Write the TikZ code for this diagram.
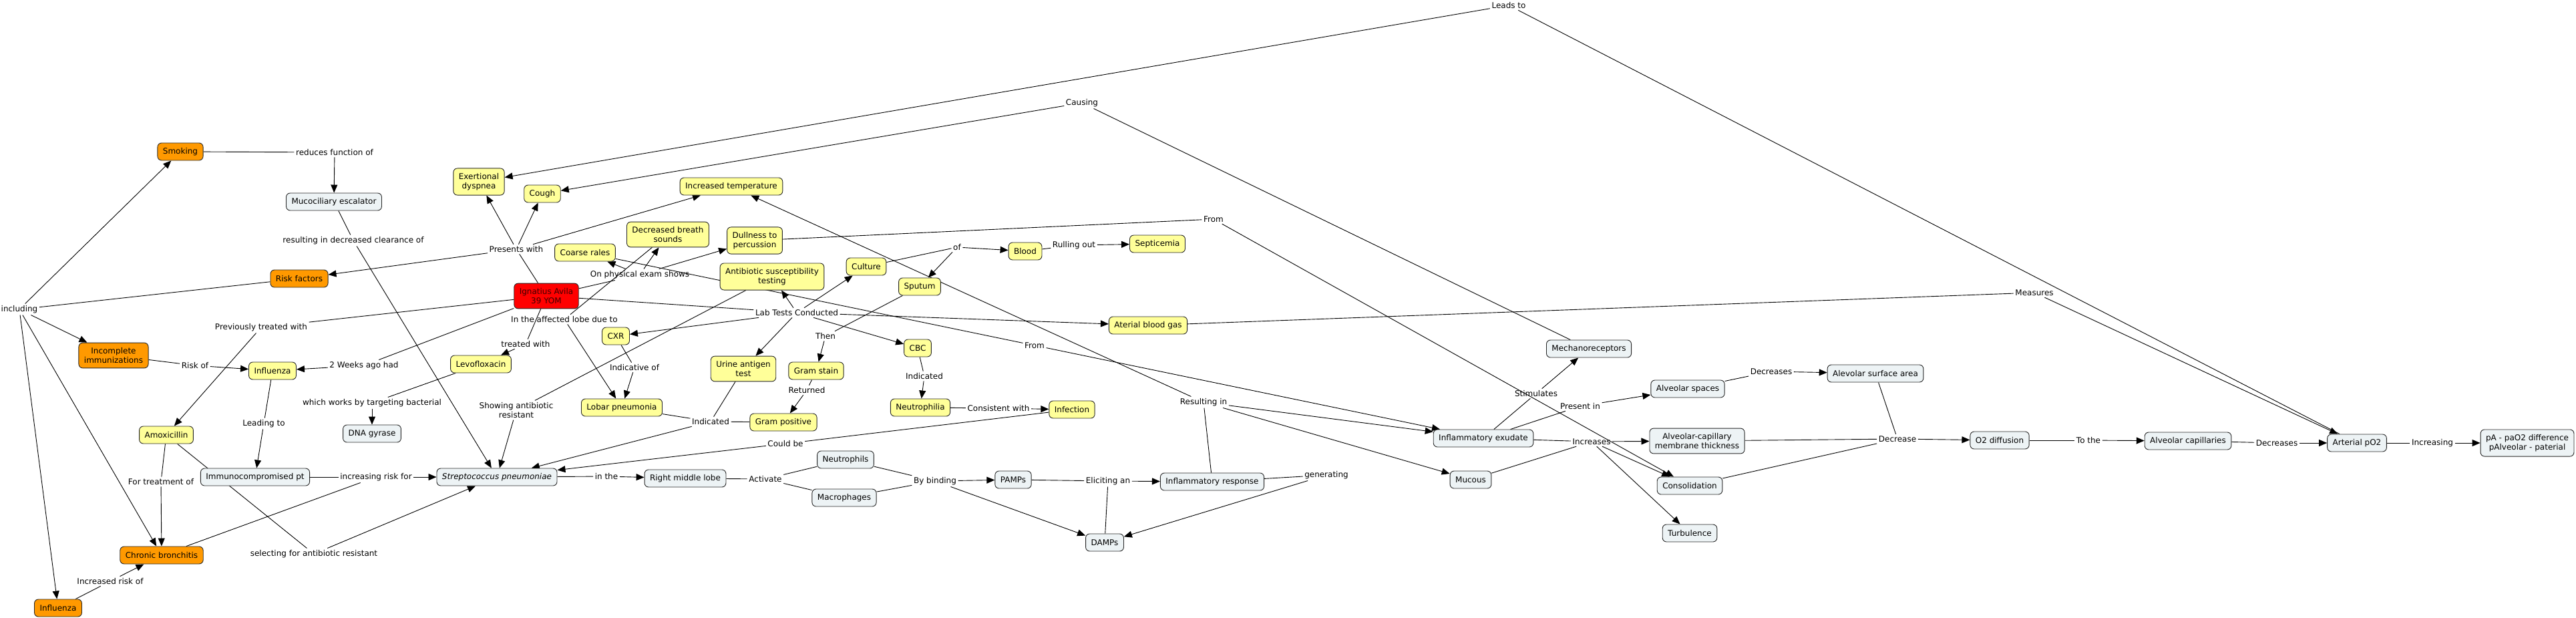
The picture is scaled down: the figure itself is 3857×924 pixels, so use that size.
\documentclass[tikz,border=0pt]{standalone}
\usepackage{fontspec}
\setmainfont{DejaVu Sans}
\usetikzlibrary{arrows.meta,backgrounds}
\definecolor{riskorange}{RGB}{255,153,0}
\definecolor{findyellow}{RGB}{255,255,153}
\definecolor{procgray}{RGB}{237,243,245}
\definecolor{ptred}{RGB}{255,0,0}
\definecolor{pttext}{RGB}{60,0,0}
\begin{document}
\begin{tikzpicture}[x=1pt,y=-1pt,font=\fontsize{12}{14.5}\selectfont,
concept/.style={draw=black!85,rounded corners=6pt,align=center,inner xsep=8pt,inner ysep=7pt,minimum height=26pt,line width=0.9pt},
riskbox/.style={concept,fill=riskorange},
patient/.style={concept,fill=ptred,text=pttext},
finding/.style={concept,fill=findyellow},
process/.style={concept,fill=procgray},
link/.style={inner sep=2.5pt,align=center},
cline/.style={line width=0.9pt},
arr/.style={-{Triangle[length=12pt,width=10pt]},line width=0.9pt}]
\useasboundingbox(0,0)rectangle(3857,924);
\node[riskbox](smoking)at(270,227){Smoking};
\node[riskbox](riskfac)at(448,417){Risk factors};
\node[riskbox](incompl)at(170,532){Incomplete\\immunizations};
\node[riskbox](chronic)at(242,831){Chronic bronchitis};
\node[riskbox](fluorange)at(87,910){Influenza};
\node[patient](patient)at(818,443){Ignatius Avila\\39 YOM};
\node[finding](dyspnea)at(717,272){Exertional\\dyspnea};
\node[finding](cough)at(812,290){Cough};
\node[finding](temp)at(1095,279){Increased temperature};
\node[finding](breath)at(1000,351){Decreased breath\\sounds};
\node[finding](dullness)at(1130,360){Dullness to\\percussion};
\node[finding](rales)at(876,378){Coarse rales};
\node[finding](suscept)at(1156,414){Antibiotic susceptibility\\testing};
\node[finding](culture)at(1297,399){Culture};
\node[finding](sputum)at(1377,429){Sputum};
\node[finding](blood)at(1535,376){Blood};
\node[finding](septic)at(1733,365){Septicemia};
\node[finding](abg)at(1719,487){Aterial blood gas};
\node[finding](cbc)at(1374,521){CBC};
\node[finding](neutrophilia)at(1378,610){Neutrophilia};
\node[finding](infection)at(1605,613){Infection};
\node[finding](cxr)at(922,503){CXR};
\node[finding](levo)at(720,545){Levofloxacin};
\node[finding](lobar)at(931,610){Lobar pneumonia};
\node[finding](urine)at(1113,552){Urine antigen\\test};
\node[finding](gramstain)at(1222,555){Gram stain};
\node[finding](grampos)at(1173,632){Gram positive};
\node[finding](fluyellow)at(408,555){Influenza};
\node[finding](amox)at(249,651){Amoxicillin};
\node[process](mucoc)at(500,302){Mucociliary escalator};
\node[process](dna)at(557,649){DNA gyrase};
\node[process](immuno)at(382,714){Immunocompromised pt};
\node[process](strep)at(744,714){\textit{Streptococcus pneumoniae}};
\node[process](rml)at(1026,716){Right middle lobe};
\node[process](neuts)at(1266,688){Neutrophils};
\node[process](macro)at(1264,745){Macrophages};
\node[process](pamps)at(1517,718){PAMPs};
\node[process](damps)at(1654,812){DAMPs};
\node[process](inflresp)at(1815,721){Inflammatory response};
\node[process](exudate)at(2221,656){Inflammatory exudate};
\node[process](mucous)at(2202,718){Mucous};
\node[process](mechano)at(2379,522){Mechanoreceptors};
\node[process](alvspace)at(2527,582){Alveolar spaces};
\node[process](acthick)at(2541,660){Alveolar-capillary\\membrane thickness};
\node[process](consol)at(2530,727){Consolidation};
\node[process](turb)at(2530,798){Turbulence};
\node[process](surfarea)at(2808,559){Alevolar surface area};
\node[process](odiff)at(2994,659){O2 diffusion};
\node[process](alvcap)at(3276,660){Alveolar capillaries};
\node[process](apo)at(3529,663){Arterial pO2};
\node[process](aadiff)at(3784,663){pA - paO2 difference\\pAlveolar - paterial};
\node[link](lredfn)at(501,228){reduces function of};
\node[link](lclear)at(529,360){resulting in decreased clearance of};
\node[link](lincl)at(29,463){including};
\node[link](lpresent)at(773,373){Presents with};
\node[link](lexam)at(958,411){On physical exam shows};
\node[link](llabs)at(1193,468){Lab Tests Conducted};
\node[link](llobe)at(845,478){In the affected lobe due to};
\node[link](ltreated)at(787,515){treated with};
\node[link](lprev)at(391,490){Previously treated with};
\node[link](ltwowk)at(545,547){2 Weeks ago had};
\node[link](lriskof)at(292,547){Risk of};
\node[link](ltarget)at(557,603){which works by targeting bacterial};
\node[link](llead)at(395,634){Leading to};
\node[link](lfortreat)at(241,721){For treatment of};
\node[link](lincrisk)at(563,714){increasing risk for};
\node[link](lselect)at(470,829){selecting for antibiotic resistant};
\node[link](lincrof)at(165,870){Increased risk of};
\node[link](lindic)at(950,550){Indicative of};
\node[link](lshowing)at(773,614){Showing antibiotic\\resistant};
\node[link](lthen)at(1236,503){Then};
\node[link](lret)at(1208,584){Returned};
\node[link](lindtwo)at(1064,631){Indicated};
\node[link](lcould)at(1176,664){Could be};
\node[link](linthe)at(908,713){in the};
\node[link](lact)at(1146,717){Activate};
\node[link](lof)at(1433,370){of};
\node[link](lrule)at(1608,367){Rulling out};
\node[link](lcausing)at(1620,154){Causing};
\node[link](lleads)at(2259,8){Leads to};
\node[link](lfromtop)at(1817,328){From};
\node[link](lfrommid)at(1549,517){From};
\node[link](lindthree)at(1384,563){Indicated};
\node[link](lconsis)at(1495,611){Consistent with};
\node[link](lresult)at(1802,602){Resulting in};
\node[link](lbind)at(1400,720){By binding};
\node[link](lelicit)at(1659,720){Eliciting an};
\node[link](lgen)at(1986,711){generating};
\node[link](lstim)at(2300,589){Stimulates};
\node[link](lpresin)at(2366,608){Present in};
\node[link](lincr)at(2383,661){Increases};
\node[link](ldecsone)at(2652,556){Decreases};
\node[link](ldec)at(2841,657){Decrease};
\node[link](ltothe)at(3127,659){To the};
\node[link](ldecstwo)at(3409,663){Decreases};
\node[link](lincing)at(3642,663){Increasing};
\node[link](lmeas)at(3046,438){Measures};
\begin{scope}[on background layer]
\draw[cline](smoking)--(lredfn);
\draw[arr](lredfn)--(mucoc);
\draw[cline](mucoc)--(lclear);
\draw[arr](lclear)--(strep);
\draw[cline](riskfac)--(lincl);
\draw[arr](lincl)--(smoking);
\draw[arr](lincl)--(incompl);
\draw[arr](lincl)--(chronic);
\draw[arr](lincl)--(fluorange);
\draw[cline](patient)--(lpresent);
\draw[arr](lpresent)--(dyspnea);
\draw[arr](lpresent)--(cough);
\draw[arr](lpresent)--(temp);
\draw[arr](lpresent)--(riskfac);
\draw[cline](patient)--(lexam);
\draw[arr](lexam)--(rales);
\draw[arr](lexam)--(breath);
\draw[arr](lexam)--(dullness);
\draw[cline](patient)--(llabs);
\draw[arr](llabs)--(suscept);
\draw[arr](llabs)--(culture);
\draw[arr](llabs)--(cxr);
\draw[arr](llabs)--(urine);
\draw[arr](llabs)--(cbc);
\draw[arr](llabs)--(abg);
\draw[cline](breath)--(llobe);
\draw[arr](llobe)--(lobar);
\draw[cline](patient)--(ltreated);
\draw[arr](ltreated)--(levo);
\draw[cline](patient)--(lprev);
\draw[arr](lprev)--(amox);
\draw[cline](patient)--(ltwowk);
\draw[arr](ltwowk)--(fluyellow);
\draw[cline](incompl)--(lriskof);
\draw[arr](lriskof)--(fluyellow);
\draw[cline](levo)--(ltarget);
\draw[arr](ltarget)--(dna);
\draw[cline](fluyellow)--(llead);
\draw[arr](llead)--(immuno);
\draw[cline](amox)--(lfortreat);
\draw[arr](lfortreat)--(chronic);
\draw[cline](immuno)--(lincrisk);
\draw[cline](chronic)--(lincrisk);
\draw[arr](lincrisk)--(strep);
\draw[cline](amox)--(lselect);
\draw[arr](lselect)--(strep);
\draw[cline](fluorange)--(lincrof);
\draw[arr](lincrof)--(chronic);
\draw[cline](cxr)--(lindic);
\draw[arr](lindic)--(lobar);
\draw[cline](suscept)--(lshowing);
\draw[arr](lshowing)--(strep);
\draw[cline](sputum)--(lthen);
\draw[arr](lthen)--(gramstain);
\draw[cline](gramstain)--(lret);
\draw[arr](lret)--(grampos);
\draw[cline](lobar)--(lindtwo);
\draw[cline](grampos)--(lindtwo);
\draw[cline](urine)--(lindtwo);
\draw[arr](lindtwo)--(strep);
\draw[cline](infection)--(lcould);
\draw[arr](lcould)--(strep);
\draw[cline](strep)--(linthe);
\draw[arr](linthe)--(rml);
\draw[cline](rml)--(lact);
\draw[cline](lact)--(neuts);
\draw[cline](lact)--(macro);
\draw[cline](culture)--(lof);
\draw[arr](lof)--(blood);
\draw[arr](lof)--(sputum);
\draw[cline](blood)--(lrule);
\draw[arr](lrule)--(septic);
\draw[cline](mechano)--(lcausing);
\draw[arr](lcausing)--(cough);
\draw[cline](apo)--(lleads);
\draw[arr](lleads)--(dyspnea);
\draw[cline](dullness)--(lfromtop);
\draw[arr](lfromtop)--(consol);
\draw[cline](rales)--(lfrommid);
\draw[arr](lfrommid)--(exudate);
\draw[cline](cbc)--(lindthree);
\draw[arr](lindthree)--(neutrophilia);
\draw[cline](neutrophilia)--(lconsis);
\draw[arr](lconsis)--(infection);
\draw[cline](inflresp)--(lresult);
\draw[arr](lresult)--(temp);
\draw[arr](lresult)--(exudate);
\draw[arr](lresult)--(mucous);
\draw[cline](neuts)--(lbind);
\draw[cline](macro)--(lbind);
\draw[arr](lbind)--(pamps);
\draw[arr](lbind)--(damps);
\draw[cline](pamps)--(lelicit);
\draw[cline](damps)--(lelicit);
\draw[arr](lelicit)--(inflresp);
\draw[cline](inflresp)--(lgen);
\draw[arr](lgen)--(damps);
\draw[cline](exudate)--(lstim);
\draw[arr](lstim)--(mechano);
\draw[cline](exudate)--(lpresin);
\draw[arr](lpresin)--(alvspace);
\draw[cline](exudate)--(lincr);
\draw[cline](mucous)--(lincr);
\draw[arr](lincr)--(acthick);
\draw[arr](lincr)--(consol);
\draw[arr](lincr)--(turb);
\draw[cline](alvspace)--(ldecsone);
\draw[arr](ldecsone)--(surfarea);
\draw[cline](surfarea)--(ldec);
\draw[cline](acthick)--(ldec);
\draw[cline](consol)--(ldec);
\draw[arr](ldec)--(odiff);
\draw[cline](odiff)--(ltothe);
\draw[arr](ltothe)--(alvcap);
\draw[cline](alvcap)--(ldecstwo);
\draw[arr](ldecstwo)--(apo);
\draw[cline](apo)--(lincing);
\draw[arr](lincing)--(aadiff);
\draw[cline](abg)--(lmeas);
\draw[arr](lmeas)--(apo);
\end{scope}
\end{tikzpicture}
\end{document}
